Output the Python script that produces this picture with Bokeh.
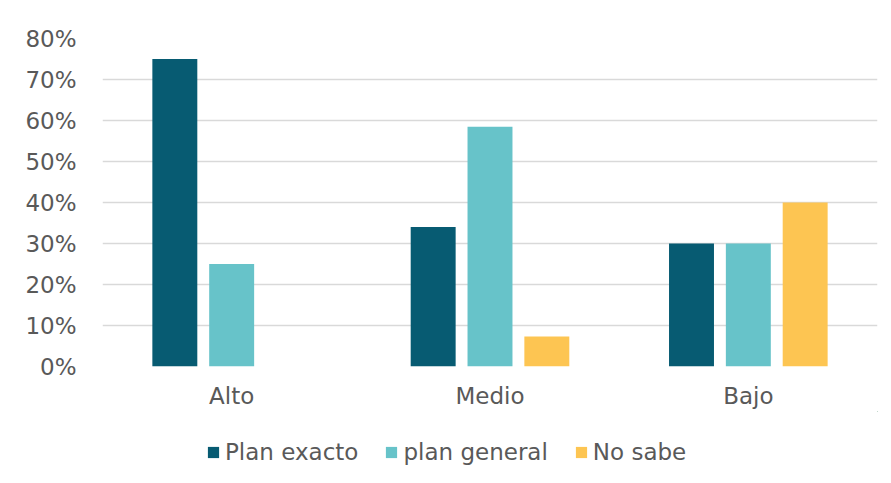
from bokeh.plotting import figure
from bokeh.layouts import column
from bokeh.models import ColumnDataSource, FactorRange, Range1d, Legend, LegendItem, PrintfTickFormatter, FixedTicker
from bokeh.transform import dodge
from bokeh.embed import file_html
from bokeh.resources import INLINE

categories = ["Alto", "Medio", "Bajo"]
plan_exacto = [75, 34, 30]
plan_general = [25, 58.5, 30]
no_sabe = [0, 7.3, 40]
series_names = ["Plan exacto", "plan general", "No sabe"]
colors = ["#075B72", "#67C3C9", "#FDC552"]
y_ticks = [0, 10, 20, 30, 40, 50, 60, 70, 80]

src = ColumnDataSource(dict(cat=categories, a=plan_exacto, b=plan_general, c=no_sabe))

FONT = "DejaVu Sans"
TXT = "#595959"

p = figure(frame_width=775, frame_height=328, x_range=FactorRange(*categories), y_range=Range1d(0, 80),
           output_backend="svg", toolbar_location=None,
           min_border_left=102, min_border_right=14, min_border_top=38, min_border_bottom=45)

for key, off, col in zip(["a", "b", "c"], [-0.22, 0.0, 0.22], colors):
    p.vbar(x=dodge("cat", off, range=p.x_range), top=key, width=0.174, source=src,
           fill_color=col, line_color=None)

p.outline_line_color = None
p.background_fill_color = "white"
p.border_fill_color = "white"

p.xgrid.grid_line_color = None
p.ygrid.grid_line_color = "#D9D9D9"
p.ygrid.grid_line_width = 1.5

p.yaxis.ticker = FixedTicker(ticks=y_ticks)
p.yaxis.formatter = PrintfTickFormatter(format="%d%%")
for ax in (p.xaxis, p.yaxis):
    ax.axis_line_color = None
    ax.major_tick_line_color = None
    ax.minor_tick_line_color = None
    ax.major_tick_out = 0
    ax.major_tick_in = 0
    ax.major_label_text_font = FONT
    ax.major_label_text_font_size = "23px"
    ax.major_label_text_color = TXT
p.yaxis.major_label_standoff = 26
p.xaxis.major_label_standoff = 16
p.x_range.range_padding = 0

# legend strip (zero-size proxy bars, outside the strip's range)
leg = figure(width=891, height=72, x_range=Range1d(0, 1), y_range=Range1d(0, 1),
             output_backend="svg", toolbar_location=None,
             x_axis_location=None, y_axis_location=None,
             min_border_left=0, min_border_right=0, min_border_top=0, min_border_bottom=0)
leg.outline_line_color = None
leg.xgrid.grid_line_color = None
leg.ygrid.grid_line_color = None
leg_renderers = [leg.vbar(x=k, top=k, bottom=k, width=0, source=src, fill_color=c, line_color=None)
                 for k, c in zip(["a", "b", "c"], colors)]
legend = Legend(items=[LegendItem(label=n, renderers=[r]) for n, r in zip(series_names, leg_renderers)],
                orientation="horizontal", location=(104, 18),
                label_text_font=FONT, label_text_font_size="23px", label_text_color=TXT,
                glyph_width=14, glyph_height=14, spacing=26, label_standoff=5, label_height=20,
                border_line_color=None, background_fill_alpha=0, margin=0, padding=4)
leg.add_layout(legend, "center")

layout = column(p, leg, spacing=0)
open("out.html", "w").write(file_html(layout, INLINE))
